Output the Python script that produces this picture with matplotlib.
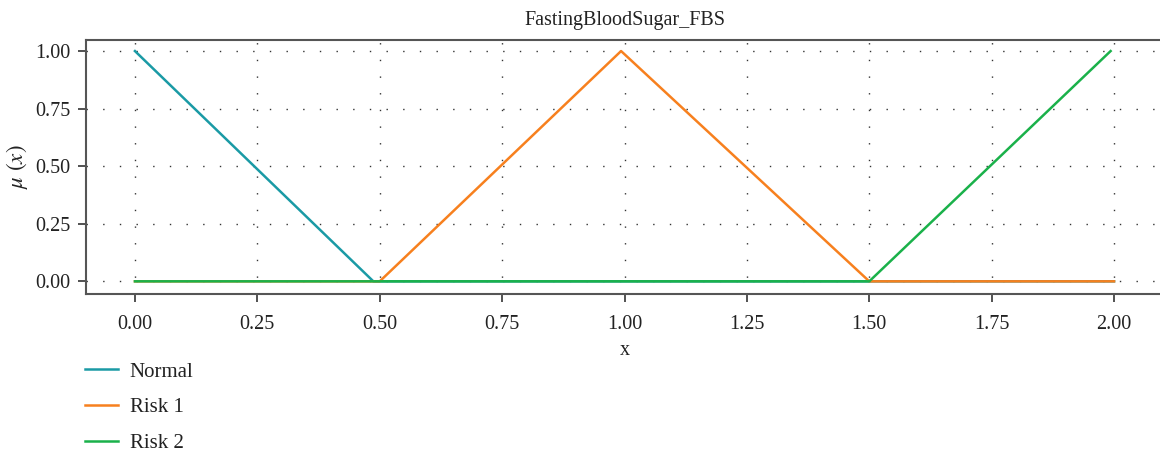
import numpy as np
import matplotlib
matplotlib.use("Agg")
import matplotlib.pyplot as plt

# membership function vertices
title = "FastingBloodSugar_FBS"
normal_x = [0.0, 0.487, 2.0]
normal_y = [1.0, 0.0, 0.0]
risk1_x = [0.0, 0.5, 0.993, 1.5, 2.0]
risk1_y = [0.0, 0.0, 1.0, 0.0, 0.0]
risk2_x = [0.0, 1.5, 1.993]
risk2_y = [0.0, 0.0, 1.0]
labels = ["Normal", "Risk 1", "Risk 2"]
colors = ["#1a9aa5", "#f7801e", "#1ab14a"]
xticks = [0.0, 0.25, 0.5, 0.75, 1.0, 1.25, 1.5, 1.75, 2.0]
yticks = [0.0, 0.25, 0.5, 0.75, 1.0]

plt.rcParams["font.family"] = ["Liberation Serif", "DejaVu Serif"]
plt.rcParams["mathtext.fontset"] = "stix"
plt.rcParams["font.size"] = 14.5

W, H = 1160, 453
fig = plt.figure(figsize=(W / 100, H / 100), dpi=100)
ax = fig.add_axes([86 / W, (H - 294) / H, (1163 - 86) / W, (294 - 40) / H])

series = [(normal_x, normal_y), (risk1_x, risk1_y), (risk2_x, risk2_y)]
for (xs, ys), lab, c in zip(series, labels, colors):
    ax.plot(xs, ys, color=c, lw=1.8, label=lab)

ax.set_xlim(-0.1, 2.1)
ax.set_ylim(-0.055, 1.048)
ax.set_xticks(xticks)
ax.set_yticks(yticks)
ax.set_xticklabels([f"{v:.2f}" for v in xticks])
ax.set_yticklabels([f"{v:.2f}" for v in yticks])
ax.grid(True, color="#333333", linestyle=(0, (1, 11)), linewidth=1.0)
ax.set_axisbelow(True)

for s in ax.spines.values():
    s.set_color("#555555")
    s.set_linewidth(1.5)
ax.tick_params(direction="out", length=6, width=1.2, color="#333333",
               labelcolor="#222222")
ax.tick_params(axis="x", pad=9)
ax.tick_params(axis="y", pad=5)

ax.set_title(title, color="#222222", fontsize=14.5, pad=11)
ax.set_xlabel("x", color="#222222", labelpad=5)
ax.set_ylabel(r"$\mu\ (x)$", color="#222222", fontsize=16.5, labelpad=4)

fig.legend(loc="upper left", bbox_to_anchor=(85 / W, 1 - 362 / H),
           frameon=False, handlelength=1.6, handletextpad=0.55,
           labelspacing=0.78, borderpad=0, borderaxespad=0,
           labelcolor="#222222", fontsize=15)

fig.savefig("out.png", dpi=100)
